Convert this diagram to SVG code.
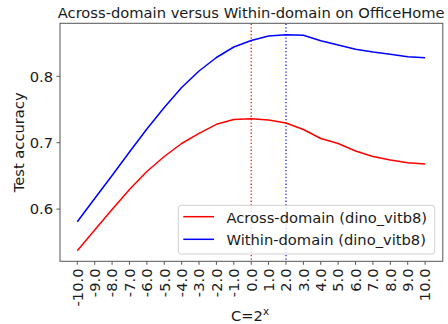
<svg xmlns="http://www.w3.org/2000/svg" width="448" height="324" viewBox="0 0 448 324">
  <style>
    text { font-family: "DejaVu Sans", "Liberation Sans", sans-serif; font-size: 14.7px; fill: #1a1a1a; }
    .spine { fill: none; stroke: #555; stroke-width: 1; }
    .tick { stroke: #555; stroke-width: 1; }
    .xt { text-anchor: end; }
    .yt { text-anchor: end; }
    .curve { fill: none; stroke-width: 1.5; stroke-linejoin: round; }
    .vline { stroke-width: 1.3; stroke-dasharray: 1.3 2.1; }
  </style>
  <rect width="448" height="324" fill="#ffffff"/>

  <!-- title -->
  <text id="title" x="251.2" y="18.3" text-anchor="middle">Across-domain versus Within-domain on OfficeHome</text>

  <!-- y axis label and ticks -->
  <g id="y-axis">
    <text transform="translate(23.5,142.3) rotate(-90)" text-anchor="middle">Test accuracy</text>
    <line class="tick" x1="56.5" y1="76.3" x2="60" y2="76.3"/>
    <line class="tick" x1="56.5" y1="142.7" x2="60" y2="142.7"/>
    <line class="tick" x1="56.5" y1="209.1" x2="60" y2="209.1"/>
    <text class="yt" x="53" y="81.6">0.8</text>
    <text class="yt" x="53" y="148">0.7</text>
    <text class="yt" x="53" y="214.4">0.6</text>
  </g>

  <!-- x axis ticks, labels and title -->
  <g id="x-axis">
    <g class="tick">
      <line x1="77.3" y1="261.3" x2="77.3" y2="264.8"/>
      <line x1="94.69" y1="261.3" x2="94.69" y2="264.8"/>
      <line x1="112.08" y1="261.3" x2="112.08" y2="264.8"/>
      <line x1="129.47" y1="261.3" x2="129.47" y2="264.8"/>
      <line x1="146.86" y1="261.3" x2="146.86" y2="264.8"/>
      <line x1="164.25" y1="261.3" x2="164.25" y2="264.8"/>
      <line x1="181.64" y1="261.3" x2="181.64" y2="264.8"/>
      <line x1="199.03" y1="261.3" x2="199.03" y2="264.8"/>
      <line x1="216.42" y1="261.3" x2="216.42" y2="264.8"/>
      <line x1="233.81" y1="261.3" x2="233.81" y2="264.8"/>
      <line x1="251.2" y1="261.3" x2="251.2" y2="264.8"/>
      <line x1="268.59" y1="261.3" x2="268.59" y2="264.8"/>
      <line x1="285.98" y1="261.3" x2="285.98" y2="264.8"/>
      <line x1="303.37" y1="261.3" x2="303.37" y2="264.8"/>
      <line x1="320.76" y1="261.3" x2="320.76" y2="264.8"/>
      <line x1="338.15" y1="261.3" x2="338.15" y2="264.8"/>
      <line x1="355.54" y1="261.3" x2="355.54" y2="264.8"/>
      <line x1="372.93" y1="261.3" x2="372.93" y2="264.8"/>
      <line x1="390.32" y1="261.3" x2="390.32" y2="264.8"/>
      <line x1="407.71" y1="261.3" x2="407.71" y2="264.8"/>
      <line x1="425.1" y1="261.3" x2="425.1" y2="264.8"/>
    </g>
    <text class="xt" transform="translate(82.6,268.5) rotate(-90)">-10.0</text>
    <text class="xt" transform="translate(99.99,268.5) rotate(-90)">-9.0</text>
    <text class="xt" transform="translate(117.38,268.5) rotate(-90)">-8.0</text>
    <text class="xt" transform="translate(134.77,268.5) rotate(-90)">-7.0</text>
    <text class="xt" transform="translate(152.16,268.5) rotate(-90)">-6.0</text>
    <text class="xt" transform="translate(169.55,268.5) rotate(-90)">-5.0</text>
    <text class="xt" transform="translate(186.94,268.5) rotate(-90)">-4.0</text>
    <text class="xt" transform="translate(204.33,268.5) rotate(-90)">-3.0</text>
    <text class="xt" transform="translate(221.72,268.5) rotate(-90)">-2.0</text>
    <text class="xt" transform="translate(239.11,268.5) rotate(-90)">-1.0</text>
    <text class="xt" transform="translate(256.5,268.5) rotate(-90)">0.0</text>
    <text class="xt" transform="translate(273.89,268.5) rotate(-90)">1.0</text>
    <text class="xt" transform="translate(291.28,268.5) rotate(-90)">2.0</text>
    <text class="xt" transform="translate(308.67,268.5) rotate(-90)">3.0</text>
    <text class="xt" transform="translate(326.06,268.5) rotate(-90)">4.0</text>
    <text class="xt" transform="translate(343.45,268.5) rotate(-90)">5.0</text>
    <text class="xt" transform="translate(360.84,268.5) rotate(-90)">6.0</text>
    <text class="xt" transform="translate(378.23,268.5) rotate(-90)">7.0</text>
    <text class="xt" transform="translate(395.62,268.5) rotate(-90)">8.0</text>
    <text class="xt" transform="translate(413.01,268.5) rotate(-90)">9.0</text>
    <text class="xt" transform="translate(430.4,268.5) rotate(-90)">10.0</text>
    <text x="231" y="320.5">C=2<tspan font-size="10.3px" dy="-6">x</tspan></text>
  </g>

  <!-- plotted series and reference lines -->
  <g id="connectors">
    <line class="vline" x1="251.2" y1="23.8" x2="251.2" y2="261" stroke="#d62020"/>
    <line class="vline" x1="285.98" y1="23.8" x2="285.98" y2="261" stroke="#2020e0"/>
    <polyline class="curve" stroke="#ff0000" points="77.3,250.7 94.69,230 112.08,209.5 129.47,189.5 146.86,171.5 164.25,156.5 181.64,143.5 199.03,133.3 216.42,124.3 233.81,119.5 251.2,118.7 268.59,120 285.98,123 303.37,129.5 320.76,138.5 338.15,143.5 355.54,151 372.93,156.5 390.32,160 407.71,162.7 425.1,164"/>
    <polyline class="curve" stroke="#0000ff" points="77.3,221.7 94.69,198.5 112.08,175.5 129.47,152 146.86,129 164.25,107.5 181.64,87.5 199.03,71 216.42,57.5 233.81,47 251.2,40.5 268.59,36 285.98,34.7 303.37,35.3 320.76,40.7 338.15,45 355.54,49.3 372.93,52 390.32,54.3 407.71,56.7 425.1,57.7"/>
  </g>

  <!-- axes frame -->
  <rect class="spine" x="60" y="23.3" width="382.8" height="238"/>

  <!-- legend -->
  <g id="legend">
    <rect x="178.3" y="205.3" width="256.4" height="48.7" rx="3" ry="3" fill="#ffffff" fill-opacity="0.8" stroke="#d0d0d0" stroke-width="1"/>
    <line x1="183.3" y1="216.7" x2="214" y2="216.7" stroke="#ff0000" stroke-width="1.5"/>
    <text x="226.5" y="222.6">Across-domain (dino_vitb8)</text>
    <line x1="183.3" y1="239.3" x2="214" y2="239.3" stroke="#0000ff" stroke-width="1.5"/>
    <text x="226.5" y="245">Within-domain (dino_vitb8)</text>
  </g>
</svg>
